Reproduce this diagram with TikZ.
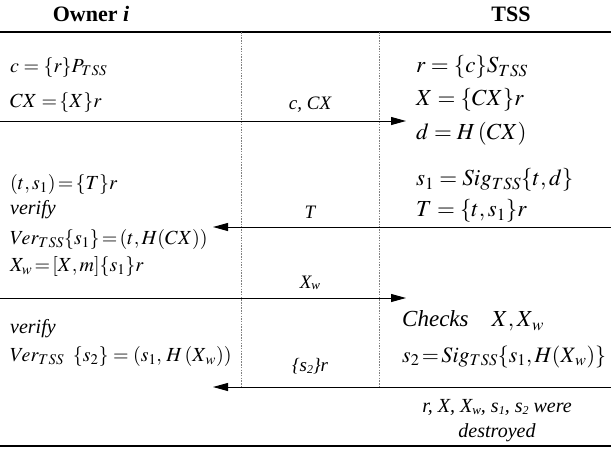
\documentclass[tikz,border=0pt]{standalone}
\usepackage{mathptmx}
\usepackage{fontspec}
\setmainfont{Liberation Serif}
\usetikzlibrary{arrows.meta}
\tikzset{
  lft/.style={anchor=west, inner sep=0pt, font=\fontsize{20}{23}\selectfont},
  rgt/.style={anchor=west, inner sep=0pt, font=\fontsize{23}{26}\selectfont},
  mid/.style={anchor=center, inner sep=0pt, font=\fontsize{19}{22}\selectfont\itshape},
  hdr/.style={anchor=center, inner sep=0pt, font=\fontsize{22}{26}\selectfont\bfseries},
  note/.style={anchor=center, inner sep=0pt, align=center, font=\fontsize{20}{25}\selectfont\itshape},
  rule/.style={line width=1.4pt, black},
  msg/.style={line width=1pt, black, -{Triangle[length=15pt,width=8pt]}},
  lane/.style={line width=0.6pt, gray, dash pattern=on 1.5pt off 1.2pt}
}
\begin{document}
\begin{tikzpicture}[x=1pt,y=-1pt]
\useasboundingbox (0,0) rectangle (611,448);
% headers
\node[hdr] (hO) at (91,14) {Owner \textit{i}};
\node[hdr] (hT) at (511,14) {TSS};
% rules
\coordinate (tl) at (0,32); \coordinate (tr) at (611,32);
\coordinate (bl) at (0,446); \coordinate (br) at (611,446);
\draw[rule] (tl) -- (tr);
\draw[rule] (bl) -- (br);
% lanes
\coordinate (l1t) at (241,32); \coordinate (l1b) at (241,387);
\coordinate (l2t) at (379,32); \coordinate (l2b) at (379,387);
\draw[lane] (l1t) -- (l1b);
\draw[lane] (l2t) -- (l2b);
% messages
\coordinate (m1s) at (0,121);   \coordinate (m1e) at (406,121);
\coordinate (m2s) at (611,227); \coordinate (m2e) at (213,227);
\coordinate (m3s) at (0,298);   \coordinate (m3e) at (406,298);
\coordinate (m4s) at (611,387); \coordinate (m4e) at (213,387);
\draw[msg] (m1s) -- (m1e);
\draw[msg] (m2s) -- (m2e);
\draw[msg] (m3s) -- (m3e);
\draw[msg] (m4s) -- (m4e);
% message labels
\node[mid] (t1) at (310,105) {c, CX};
\node[mid] (t2) at (310,212) {T};
\node[mid] (t3) at (310,283) {X\raisebox{-0.15ex}{\fontsize{13}{14}\selectfont w}};
\node[mid] (t4) at (310,366) {\{s\raisebox{-0.2ex}{\fontsize{12}{14}\selectfont 2}\}r};
% owner side
\node[lft] (o1) at (10,68)  {$c=\{r\}P_{TSS}$};
\node[lft] (o2) at (10,103) {$CX\;{=}\,\{X\}r$};
\node[lft] (o3) at (10,184) {$(t,s_1)\!=\!\{T\}r$};
\node[lft] (o4) at (10,210) {\textit{verify}};
\node[lft] (o5) at (10,239) {$Ver_{TSS}\{s_1\}\!=\!(t,H(CX))$};
\node[lft] (o6) at (10,266) {$X_w\!=\![X,m]\{s_1\}r$};
\node[lft] (o7) at (10,329) {\textit{verify}};
\node[lft] (o8) at (10,356) {$Ver_{TSS}\;\;\{s_2\}=(s_1,\,H\,(X_{\,w}))$};
% TSS side
\node[rgt] (s1) at (416,67)  {$r=\{c\}S_{TSS}$};
\node[rgt] (s2) at (416,100) {$X=\{CX\}r$};
\node[rgt] (s3) at (416,134) {$d=H\,(CX)$};
\node[rgt] (s4) at (416,180) {$s_1=Sig_{TSS}\{t,d\}$};
\node[rgt] (s5) at (416,211) {$T=\{t,s_1\}r$};
\node[rgt] (s6) at (402,321) {\textit{Checks}\quad $X,X_{\,w}$};
\node[rgt, font=\fontsize{22}{26}\selectfont] (s7) at (402,357) {$s_2\,{=}\,Sig_{TSS}\{s_1,H(X_{\,w})\}$};
\node[note] (s8) at (497,421) {r, X, X\raisebox{-0.15ex}{\fontsize{13}{14}\selectfont w}, s\raisebox{-0.2ex}{\fontsize{12}{14}\selectfont 1}, s\raisebox{-0.2ex}{\fontsize{12}{14}\selectfont 2} were\\ destroyed};
\end{tikzpicture}
\end{document}
